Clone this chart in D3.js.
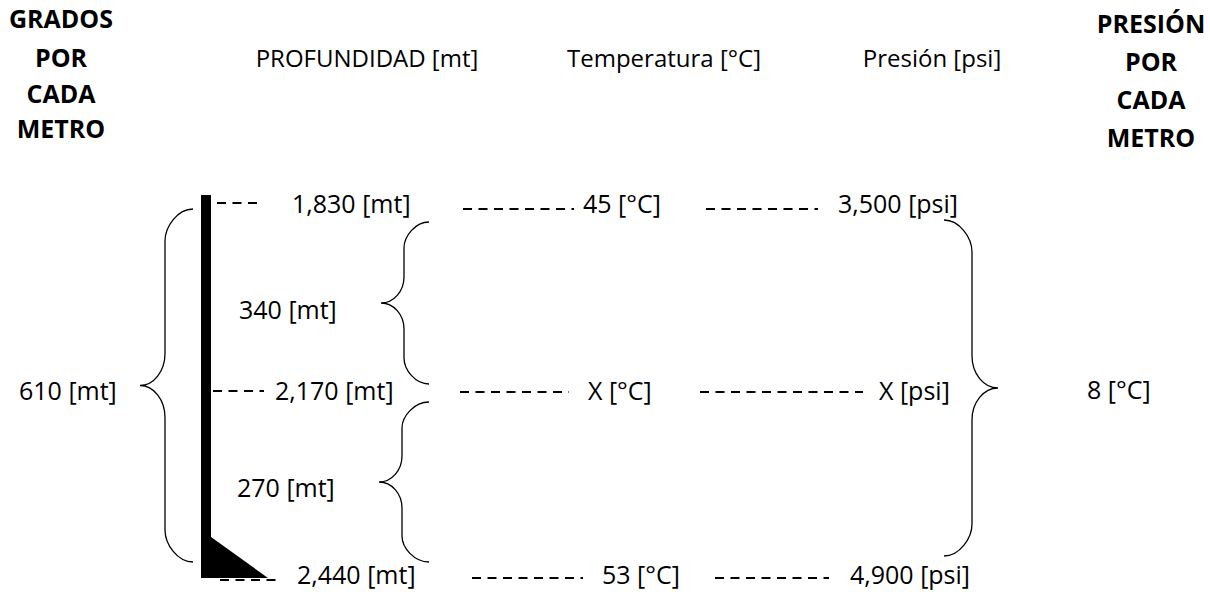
<!DOCTYPE html>
<html>
<head>
<meta charset="utf-8">
<script src="https://cdn.jsdelivr.net/npm/d3@7"></script>
<style>
  body { margin: 0; background: white; }
  text { font-family: "Open Sans", sans-serif; fill: black; }
</style>
</head>
<body>
<script>
// data
var depths = ["1,830", "2,170", "2,440"];
var temps = ["45", "X", "53"];
var pressures = ["3,500", "X", "4,900"];
var headers = ["PROFUNDIDAD [mt]", "Temperatura [°C]", "Presión [psi]"];
var leftTitle = ["GRADOS", "POR", "CADA", "METRO"];
var rightTitle = ["PRESIÓN", "POR", "CADA", "METRO"];
var intervals = ["340", "270"];
var totalDepth = "610";
var perMeter = "8";

var width = 1210, height = 592;
var svg = d3.select("body").append("svg")
    .attr("width", width).attr("height", height);

// rows are spread evenly down the page
var y = d3.scalePoint().domain(d3.range(depths.length)).range([204, 578]);

// header row
var headerX = [367, 664, 932];
svg.selectAll(".header").data(headers).enter().append("text")
    .attr("x", function(d, i) { return headerX[i]; })
    .attr("y", 67)
    .attr("text-anchor", "middle")
    .attr("font-size", 24)
    .text(function(d) { return d; });

// bold side titles
function sideTitle(lines, cx, baselines) {
    svg.selectAll(null).data(lines).enter().append("text")
        .attr("x", cx)
        .attr("y", function(d, i) { return baselines[i]; })
        .attr("text-anchor", "middle")
        .attr("font-size", 25)
        .attr("font-weight", "bold")
        .text(function(d) { return d; });
}
sideTitle(leftTitle, 61, [28, 67, 103, 138]);
sideTitle(rightTitle, 1151, [33, 71, 109, 147]);

// well bore: black bar with the wedge at the bottom
svg.append("rect")
    .attr("x", 201).attr("y", 195)
    .attr("width", 10).attr("height", y(2) - 195)
    .attr("fill", "black");
svg.append("path")
    .attr("d", "M211," + (y(2) - 41) + " L268," + y(2) + " L201," + y(2) + " Z")
    .attr("fill", "black");

// dashed leaders and row labels
var depthStart = [292, 275, 297], tempStart = [583, 588, 602], presStart = [838, 879, 850];
var dashDepth = [[217, 262], [213, 264], [220, 276]];
var dashTemp = [[463, 574], [460, 569], [472, 583]];
var dashPres = [[706, 818], [700, 863], [715, 829]];

function dashes(segs, dy) {
    svg.selectAll(null).data(segs).enter().append("line")
        .attr("x1", function(d) { return d[0]; })
        .attr("x2", function(d) { return d[1]; })
        .attr("y1", function(d, i) { return y(i) + dy[i]; })
        .attr("y2", function(d, i) { return y(i) + dy[i]; })
        .attr("stroke", "black")
        .attr("stroke-width", 2)
        .attr("stroke-dasharray", "9,6.5");
}
dashes(dashDepth, [-1, 0, 2]);
dashes(dashTemp, [5, 1, 0]);
dashes(dashPres, [5, 1, 0]);

// last row sits on the page edge, so its baseline is lifted a little
var labelDy = [9, 9, 6];
function rowLabels(vals, starts, unit) {
    svg.selectAll(null).data(vals).enter().append("text")
        .attr("x", function(d, i) { return starts[i]; })
        .attr("y", function(d, i) { return y(i) + labelDy[i]; })
        .attr("font-size", 25)
        .text(function(d) { return d + " " + unit; });
}
rowLabels(depths, depthStart, "[mt]");
rowLabels(temps, tempStart, "[°C]");
rowLabels(pressures, presStart, "[psi]");

// curly braces
function brace(xe, xv, xt, y0, y1, r) {
    var ym = (y0 + y1) / 2;
    var p = d3.path();
    var k = 0.45;
    p.moveTo(xe, y0);
    p.bezierCurveTo(xv + (xe - xv) * k, y0, xv, y0 + r * (1 - k), xv, y0 + r);
    p.lineTo(xv, ym - r);
    p.bezierCurveTo(xv, ym - r * k, xt + (xv - xt) * (1 - k), ym, xt, ym);
    p.bezierCurveTo(xt + (xv - xt) * (1 - k), ym, xv, ym + r * k, xv, ym + r);
    p.lineTo(xv, y1 - r);
    p.bezierCurveTo(xv, y1 - r * (1 - k), xv + (xe - xv) * k, y1, xe, y1);
    svg.append("path").attr("d", p.toString())
        .attr("fill", "none").attr("stroke", "black").attr("stroke-width", 1.3);
}
brace(193, 165, 140, 209, 562, 32);
brace(429, 404, 381, 222, 384, 26);
brace(429, 402, 379, 402, 562, 26);
brace(944, 972, 998, 220, 556, 32);

// interval labels
svg.append("text").attr("x", 239).attr("y", 319).attr("font-size", 25)
    .text(intervals[0] + " [mt]");
svg.append("text").attr("x", 237).attr("y", 497).attr("font-size", 25)
    .text(intervals[1] + " [mt]");
svg.append("text").attr("x", 19).attr("y", 400).attr("font-size", 25)
    .text(totalDepth + " [mt]");
svg.append("text").attr("x", 1087).attr("y", 399).attr("font-size", 25)
    .text(perMeter + " [°C]");
</script>
</body>
</html>
